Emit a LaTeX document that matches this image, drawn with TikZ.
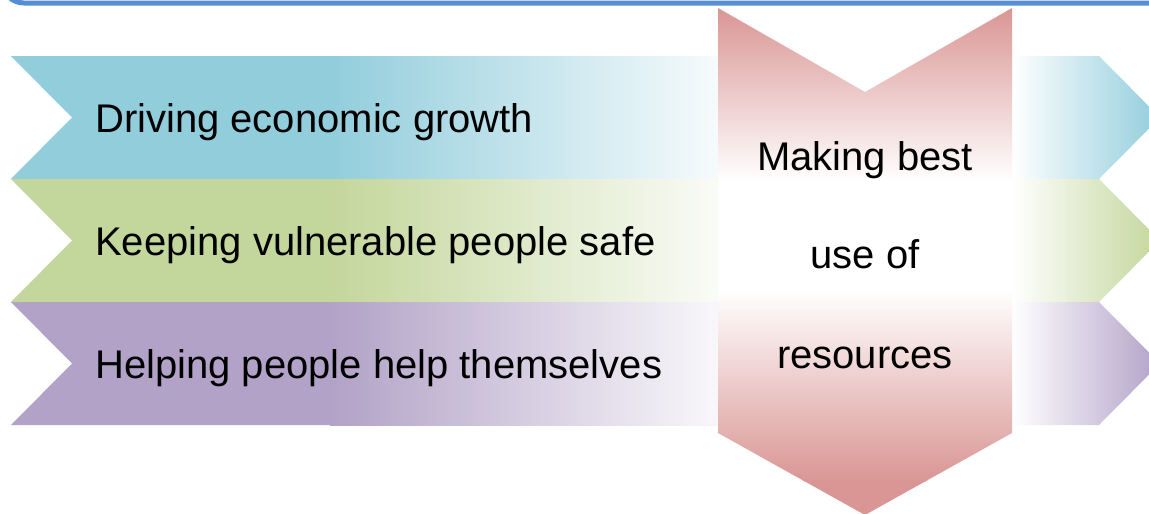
\documentclass[tikz,border=0pt]{standalone}
\usepackage{fontspec}
\setmainfont{Liberation Sans}
\definecolor{bandblue}{HTML}{92CDDC}
\definecolor{bandgreen}{HTML}{C3D69B}
\definecolor{bandpurple}{HTML}{B2A2C7}
\definecolor{arrowpink}{HTML}{D99694}
\definecolor{frameblue}{HTML}{558ED5}

\begin{document}
\begin{tikzpicture}[x=1pt,y=-1pt,
  label text/.style={font=\fontsize{40}{48}\selectfont, inner sep=0pt, text=black}]
\useasboundingbox (0,0) rectangle (1149,514);
\clip (0,0) rectangle (1149,514);

% lower edge of the surrounding frame
\draw[frameblue, line width=5pt, rounded corners=22pt] (2,-60) rectangle (1200,3);

% three chevron bands: solid on the left, fading towards the middle, coloured again at the tip
\foreach \t/\c in {56/bandblue,179/bandgreen,302/bandpurple}{
  \pgfmathsetmacro\b{\t+123}
  \pgfmathsetmacro\m{\t+61.5}
  \fill[\c] (11,\t) -- (332,\t) -- (332,\b) -- (11,\b) -- (72,\m) -- cycle;
  \shade[left color=\c, right color=\c!8!white] (330,\t) rectangle (720,\b);
  \shade[left color=white, right color=\c] (1012,\t) -- (1099,\t) -- (1160,\m) -- (1099,\b) -- (1012,\b) -- cycle;
}

% vertical chevron arrow, pink at both ends and white in the middle
\begin{scope}
  \clip (718,8) -- (865,92) -- (1012,8) -- (1012,433) -- (865,515) -- (718,433) -- cycle;
  \shade[top color=arrowpink, bottom color=white] (710,8) rectangle (1020,181);
  \fill[white] (710,180) rectangle (1020,291);
  \shade[top color=white, bottom color=arrowpink] (710,290) rectangle (1020,481);
  \fill[arrowpink] (710,480) rectangle (1020,520);
\end{scope}

% band labels
\node[label text, anchor=base west] (growth) at (95,132) {Driving economic growth};
\node[label text, anchor=base west] (safe) at (95,255) {Keeping vulnerable people safe};
\node[label text, anchor=base west] (help) at (95,378) {Helping people help themselves};

% arrow label
\node[label text, anchor=base] (making) at (865,170) {Making best};
\node[label text, anchor=base] (useof) at (865,268) {use of};
\node[label text, anchor=base] (resources) at (865,368) {resources};
\end{tikzpicture}
\end{document}
